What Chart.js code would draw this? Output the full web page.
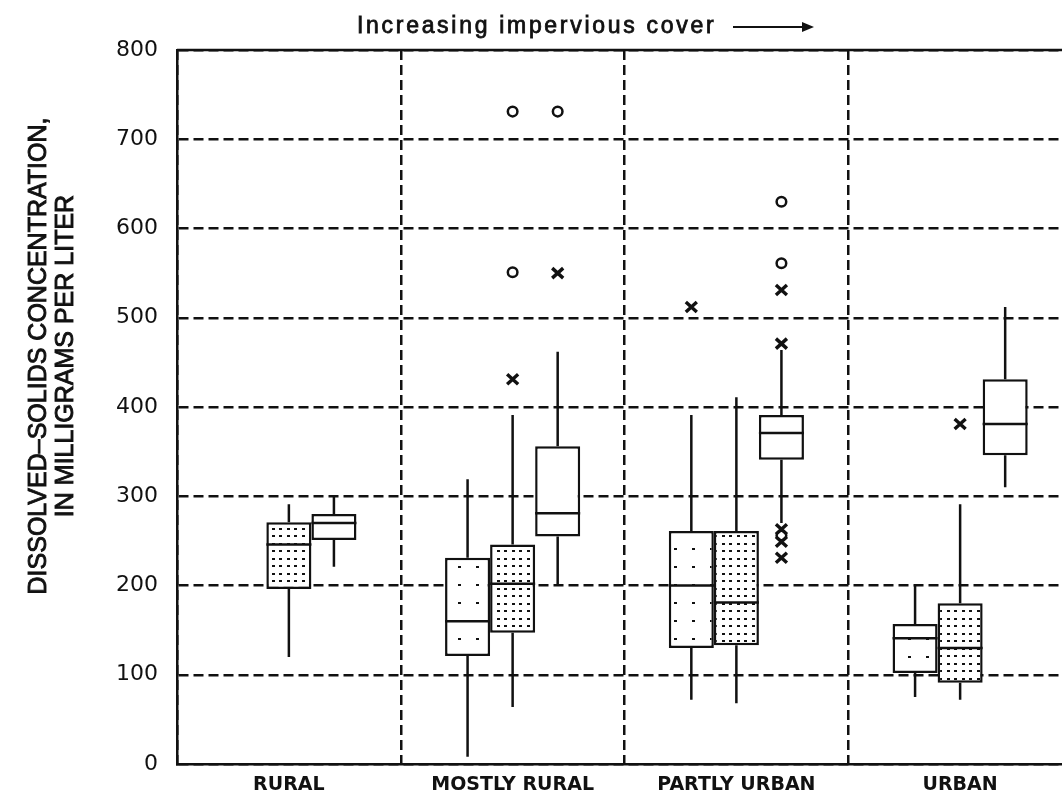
<!DOCTYPE html>
<html>
<head>
  <title>Dissolved Solids by Land Use</title>
  <script src="https://cdn.jsdelivr.net/npm/chart.js"></script>
  <style>
    html, body { margin: 0; padding: 0; background: #fff; overflow: hidden; }
    #wrap { width: 1072px; height: 804px; }
  </style>
</head>
<body>

<div id="wrap"><canvas id="tdsChart"></canvas></div>

<script>
  const categories = ['RURAL', 'MOSTLY RURAL', 'PARTLY URBAN', 'URBAN'];
  const yTicks = [0, 100, 200, 300, 400, 500, 600, 700, 800];

  // box summaries per category: [low whisker, q1, median, q3, high whisker]
  const sparseBoxes = [null, [8, 121, 160, 231, 319], [72, 130, 200, 261, 391], [75, 102, 141, 157, 200]];
  const denseBoxes = [[120, 196, 246, 271, 291], [64, 147, 202, 246, 391], [68, 133, 181, 261, 411], [72, 91, 130, 180, 291]];
  const openBoxes = [[221, 251, 270, 280, 300], [200, 255, 281, 356, 462], [270, 341, 371, 391, 464], [310, 346, 381, 431, 512]];

  // outside values (circles) and far-out values (crosses)
  const sparseCircles = [[], [], [], []];
  const sparseCrosses = [[], [], [512], []];
  const denseCircles = [[], [731, 551], [], []];
  const denseCrosses = [[], [431], [], [381]];
  const openCircles = [[], [731], [630, 561, 256], []];
  const openCrosses = [[], [550], [531, 471, 263, 249, 231], []];

  const ink = '#111';
  const lw = 2.5;

  function dotPattern(size, dots, dw, dh) {
    const c = document.createElement('canvas');
    c.width = size; c.height = size;
    const g = c.getContext('2d');
    g.fillStyle = '#fff';
    g.fillRect(0, 0, size, size);
    g.fillStyle = ink;
    dots.forEach(d => g.fillRect(d[0], d[1], dw, dh));
    return g.createPattern(c, 'repeat');
  }

  const sparseFill = dotPattern(18, [[8, 8]], 3, 2);
  const denseFill = dotPattern(15, [[2, 3], [9, 3], [2, 10], [9, 10]], 3, 2);

  const groups = [
    { boxes: sparseBoxes, circles: sparseCircles, crosses: sparseCrosses, fill: sparseFill },
    { boxes: denseBoxes, circles: denseCircles, crosses: denseCrosses, fill: denseFill },
    { boxes: openBoxes, circles: openCircles, crosses: openCrosses, fill: '#fff' }
  ];

  // whiskers, medians and outliers, placed with the chart's own scales
  const boxExtras = {
    id: 'boxExtras',
    beforeDatasetsDraw(chart) {
      const { ctx, chartArea, scales: { y } } = chart;
      ctx.save();
      ctx.strokeStyle = ink;
      ctx.lineWidth = lw;
      ctx.beginPath();
      ctx.moveTo(chartArea.left, y.getPixelForValue(800));
      ctx.lineTo(chartArea.right, y.getPixelForValue(800));
      ctx.stroke();
      ctx.restore();
    },
    afterDatasetsDraw(chart) {
      const { ctx, scales: { y } } = chart;
      ctx.save();
      ctx.strokeStyle = ink;
      groups.forEach((grp, di) => {
        const meta = chart.getDatasetMeta(di);
        grp.boxes.forEach((b, i) => {
          const el = meta.data[i];
          if (!el) return;
          const x = el.x;
          ctx.lineWidth = lw;
          if (b) {
            const half = el.width / 2;
            ctx.beginPath();
            ctx.moveTo(x, y.getPixelForValue(b[3]));
            ctx.lineTo(x, y.getPixelForValue(b[4]));
            ctx.moveTo(x, y.getPixelForValue(b[1]));
            ctx.lineTo(x, y.getPixelForValue(b[0]));
            ctx.moveTo(x - half, y.getPixelForValue(b[2]));
            ctx.lineTo(x + half, y.getPixelForValue(b[2]));
            ctx.stroke();
          }
          grp.circles[i].forEach(v => {
            ctx.beginPath();
            ctx.arc(x, y.getPixelForValue(v), 4.8, 0, Math.PI * 2);
            ctx.stroke();
          });
          ctx.lineWidth = 3.4;
          grp.crosses[i].forEach(v => {
            const py = y.getPixelForValue(v);
            ctx.beginPath();
            ctx.moveTo(x - 5.5, py - 5);
            ctx.lineTo(x + 5.5, py + 5);
            ctx.moveTo(x + 5.5, py - 5);
            ctx.lineTo(x - 5.5, py + 5);
            ctx.stroke();
          });
        });
      });
      ctx.restore();
    },
    afterDraw(chart) {
      const { ctx } = chart;
      ctx.save();
      ctx.fillStyle = ink;
      ctx.strokeStyle = ink;
      // top caption
      ctx.font = '23px "Liberation Sans", Arial, sans-serif';
      ctx.letterSpacing = '2.7px';
      ctx.textBaseline = 'alphabetic';
      ctx.textAlign = 'left';
      ctx.lineWidth = 0.8;
      ctx.fillText('Increasing impervious cover', 357, 33);
      ctx.strokeText('Increasing impervious cover', 357, 33);
      ctx.letterSpacing = '0px';
      ctx.lineWidth = 2.2;
      ctx.beginPath();
      ctx.moveTo(733, 27);
      ctx.lineTo(806, 27);
      ctx.stroke();
      ctx.beginPath();
      ctx.moveTo(814, 27);
      ctx.lineTo(802, 22);
      ctx.lineTo(802, 32);
      ctx.closePath();
      ctx.fill();
      // y axis title
      ctx.font = '25px "Liberation Sans", Arial, sans-serif';
      ctx.textAlign = 'center';
      ctx.textBaseline = 'middle';
      ctx.lineWidth = 0.9;
      ctx.translate(39, 356);
      ctx.rotate(-Math.PI / 2);
      ['DISSOLVED\u2013SOLIDS CONCENTRATION,', 'IN MILLIGRAMS PER LITER'].forEach((t, k) => {
        ctx.fillText(t, 0, k * 27);
        ctx.strokeText(t, 0, k * 27);
      });
      ctx.restore();
    }
  };

  const ctx = document.getElementById('tdsChart').getContext('2d');

  new Chart(ctx, {
    type: 'bar',
    data: {
      labels: categories,
      datasets: groups.map(grp => ({
        data: grp.boxes.map(b => b ? [b[1], b[3]] : null),
        backgroundColor: grp.fill,
        borderColor: ink,
        borderWidth: lw,
        borderSkipped: false,
        categoryPercentage: 0.604,
        barPercentage: 1
      }))
    },
    options: {
      responsive: true,
      maintainAspectRatio: false,
      animation: false,
      layout: { padding: { top: 50, left: 0, right: 0, bottom: 0 } },
      plugins: {
        legend: { display: false },
        tooltip: { enabled: false }
      },
      scales: {
        x: {
          offset: true,
          grid: { offset: true, color: ink, lineWidth: lw, drawTicks: false },
          border: { display: true, color: ink, width: lw, dash: [10, 5] },
          ticks: {
            color: ink,
            padding: 10,
            font: { family: '"DejaVu Sans", sans-serif', size: 19, weight: 'bold' }
          },
          afterFit(scale) { scale.height = 40; }
        },
        y: {
          min: 0,
          max: 800,
          afterBuildTicks(scale) { scale.ticks = yTicks.map(v => ({ value: v })); },
          grid: { color: ink, lineWidth: lw, drawTicks: false },
          border: { display: true, color: ink, width: lw, dash: [10, 5] },
          ticks: {
            color: ink,
            padding: 19,
            font: { family: '"DejaVu Sans", sans-serif', size: 22 }
          },
          afterFit(scale) { scale.width = 177; }
        }
      }
    },
    plugins: [boxExtras]
  });
</script>

</body>
</html>
